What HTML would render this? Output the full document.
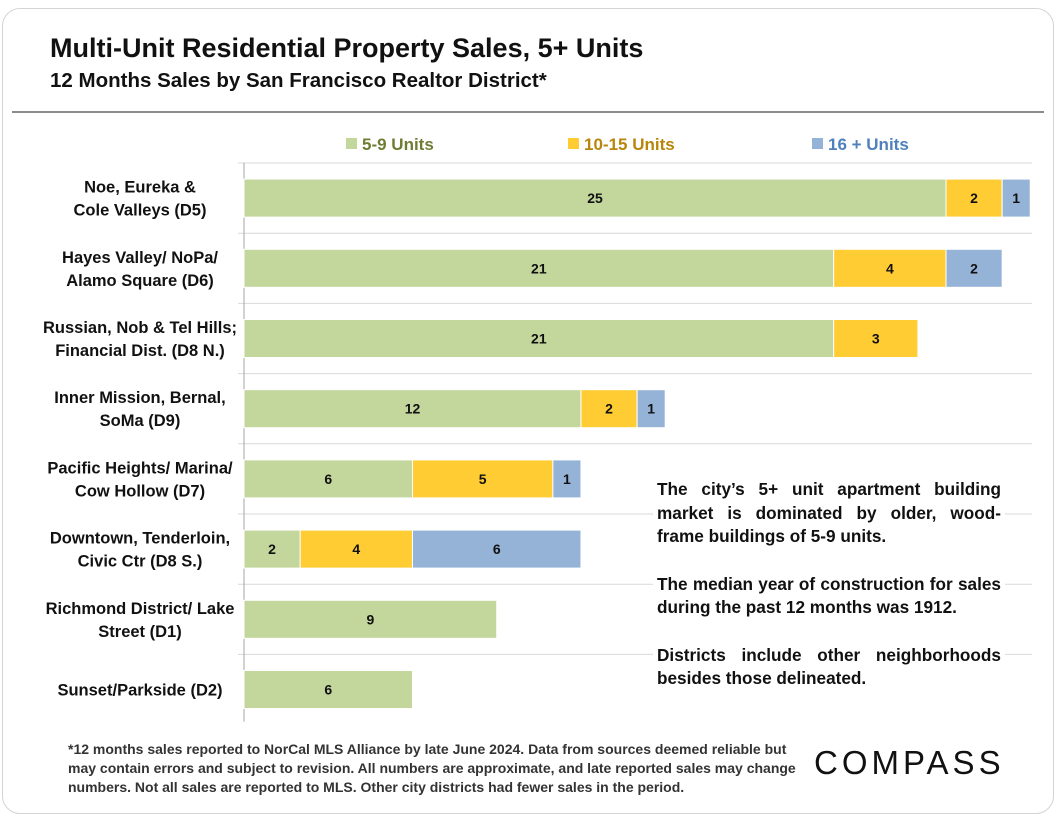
<!DOCTYPE html>
<html><head><meta charset="utf-8"><style>
body{margin:0;width:1056px;height:816px;background:#fff;font-family:"Liberation Sans",Calibri,sans-serif;overflow:hidden}
#card{position:absolute;left:2px;top:8px;width:1050px;height:804px;border:1px solid #d4d4d4;border-radius:18px}
.t{position:absolute;font-weight:bold;color:#111;white-space:nowrap}
svg text{font-family:"Liberation Sans",sans-serif;font-weight:bold}
#note{position:absolute;left:653px;top:478px;width:344px;background:#fff;font-weight:bold;font-size:17.2px;line-height:23.5px;color:#111;text-align:justify;padding:0 4px}
#note p{margin:0 0 24px 0}
</style></head><body>
<div id="card"></div>
<div class="t" style="left:50px;top:33px;font-size:27px">Multi-Unit Residential Property Sales, 5+ Units</div>
<div class="t" style="left:50px;top:69px;font-size:20.5px">12 Months Sales by San Francisco Realtor District*</div>
<div style="position:absolute;left:12px;top:111px;width:1032px;height:2px;background:#8c8c8c"></div>
<svg id="chart" width="1056" height="816" style="position:absolute;left:0;top:0"></svg>
<div id="note">
<p>The city’s 5+ unit apartment building market is dominated by older, wood-frame buildings of 5-9 units.</p>
<p>The median year of construction for sales during the past 12 months was 1912.</p>
<p>Districts include other neighborhoods besides those delineated.</p>
</div>
<div class="t" style="left:68px;top:740px;font-size:14px;line-height:19px;color:#333">*12 months sales reported to NorCal MLS Alliance by late June 2024. Data from sources deemed reliable but<br>may contain errors and subject to revision. All numbers are approximate, and late reported sales may change<br>numbers. Not all sales are reported to MLS. Other city districts had fewer sales in the period.</div>
<div class="t" style="left:814px;top:744px;font-size:33px;letter-spacing:4px;font-weight:normal;color:#111">COMPASS</div>
<script>
const categories=[["Noe, Eureka &","Cole Valleys (D5)"],["Hayes Valley/ NoPa/","Alamo Square (D6)"],["Russian, Nob & Tel Hills;","Financial Dist. (D8 N.)"],["Inner Mission, Bernal,","SoMa (D9)"],["Pacific Heights/ Marina/","Cow Hollow (D7)"],["Downtown, Tenderloin,","Civic Ctr (D8 S.)"],["Richmond District/ Lake","Street (D1)"],["Sunset/Parkside (D2)"]];
const units5to9=[25,21,21,12,6,2,9,6];
const units10to15=[2,4,3,2,5,4,0,0];
const units16plus=[1,2,0,1,1,6,0,0];
const seriesNames=["5-9 Units","10-15 Units","16 + Units"];
const seriesColors=["#c3d69b","#ffcc33","#95b3d7"];
const legendColors=["#6e7d33","#b8860b","#4f81bd"];
const svg=document.getElementById('chart');const NS='http://www.w3.org/2000/svg';
const x0=244,pxPerUnit=28.08,top0=163,rowH=70.2,barH=38;
const xs=v=>x0+v*pxPerUnit;
function mk(t,a){const e=document.createElementNS(NS,t);for(const k in a)e.setAttribute(k,a[k]);svg.appendChild(e);return e;}
for(let i=0;i<categories.length;i++){const y=top0+i*rowH;
 const g=mk('line',{x1:238,x2:1032,y1:y,y2:y,stroke:'#d9d9d9','stroke-width':1});
 }
const ax=mk('line',{x1:x0,x2:x0,y1:top0,y2:top0+categories.length*rowH-3,stroke:'#a6a6a6','stroke-width':1});

const series=[units5to9,units10to15,units16plus];
categories.forEach((c,i)=>{const cy=top0+i*rowH+rowH/2;
 const lab=mk('text',{x:140,'text-anchor':'middle','font-size':16.5,fill:'#111'});
 
 c.forEach((ln,j)=>{const ts=document.createElementNS(NS,'tspan');ts.setAttribute('x',140);ts.setAttribute('y',cy+6+(j-(c.length-1)/2)*23);ts.textContent=ln;lab.appendChild(ts);});
 let acc=0;
 series.forEach((s,k)=>{const v=s[i];if(!v)return;
  const r=mk('rect',{x:xs(acc),y:cy-barH/2,width:xs(acc+v)-xs(acc),height:barH,fill:seriesColors[k],stroke:'#fff','stroke-width':1});
  
  const t=mk('text',{x:(xs(acc)+xs(acc+v))/2,y:cy+5,'text-anchor':'middle','font-size':14,fill:'#111'});t.textContent=v;
  
  acc+=v;});
});
const legX=[346,568,812];
seriesNames.forEach((n,k)=>{
 const r=mk('rect',{x:legX[k],y:138,width:11,height:11,fill:seriesColors[k]});
 
 const t=mk('text',{x:legX[k]+16,y:150,'font-size':17,fill:legendColors[k]});t.textContent=n;
 
});
</script>
</body></html>
